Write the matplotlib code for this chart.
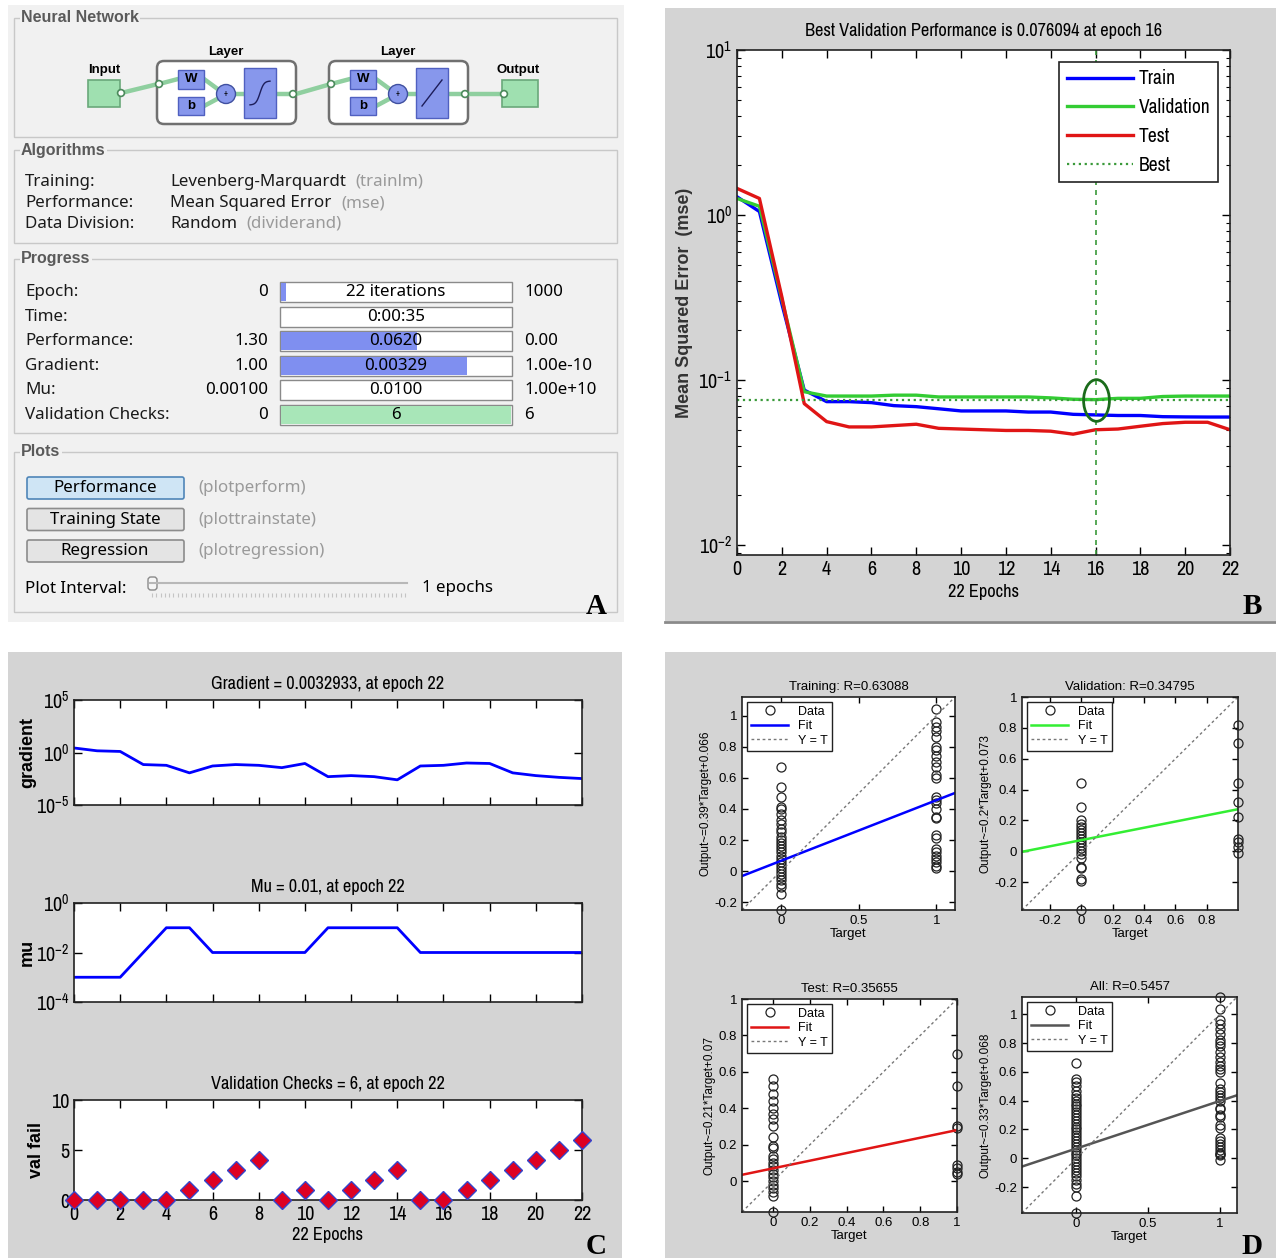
import numpy as np
import matplotlib as mpl
mpl.use('Agg')
import matplotlib.pyplot as plt
from matplotlib import font_manager
from matplotlib.patches import Rectangle, FancyBboxPatch, Circle
from matplotlib.path import Path
from matplotlib.transforms import Affine2D

W, H = 1276, 1260

# MATLAB figures in the picture use a condensed sans; pick one if the system has it
fonts = font_manager.fontManager.ttflist
narrow = sorted({f.name for f in fonts if 'Narrow' in f.name or 'Condensed' in f.name})
cond_dejavu = [f for f in fonts if f.name == 'DejaVu Sans' and 'condensed' in str(f.stretch)]
k = 1.0
if narrow:
    MATLAB_FONT = [narrow[0], 'Liberation Sans', 'DejaVu Sans']
elif cond_dejavu:
    MATLAB_FONT = ['DejaVu Sans', 'Liberation Sans']
    plt.rcParams['font.stretch'] = 'condensed'
    k = 0.92
else:
    MATLAB_FONT = ['Liberation Sans', 'DejaVu Sans']
    k = 0.84
plt.rcParams['font.family'] = MATLAB_FONT
plt.rcParams['mathtext.fontset'] = 'custom'
plt.rcParams['mathtext.rm'] = MATLAB_FONT[0]
ARIAL = ['Liberation Sans', 'DejaVu Sans']
GUI_FONT = ['Noto Sans', 'DejaVu Sans']

# ---------------- data ----------------
epochs = np.arange(23)

# panel B: performance (mse)
perf_train = [1.29, 1.05, 0.29, 0.087, 0.074, 0.074, 0.073, 0.070, 0.069, 0.067, 0.065,
              0.065, 0.065, 0.064, 0.064, 0.062, 0.0615, 0.061, 0.061, 0.060, 0.0598, 0.0597, 0.0597]
perf_val = [1.26, 1.13, 0.31, 0.085, 0.080, 0.080, 0.080, 0.081, 0.081, 0.079, 0.079,
            0.079, 0.079, 0.079, 0.078, 0.0765, 0.0761, 0.0775, 0.0775, 0.0795, 0.080, 0.080, 0.080]
perf_test = [1.45, 1.26, 0.32, 0.072, 0.056, 0.052, 0.052, 0.053, 0.054, 0.051, 0.0505,
             0.050, 0.0495, 0.0495, 0.049, 0.047, 0.050, 0.0505, 0.0525, 0.0545, 0.0555, 0.0555, 0.050]
best_epoch = 16
best_perf = 0.076094

# panel C: training state
gradient = [2.7, 1.45, 1.26, 0.071, 0.060, 0.0115, 0.052, 0.071, 0.060, 0.036, 0.090, 0.005,
            0.0063, 0.005, 0.0025, 0.052, 0.060, 0.10, 0.090, 0.0115, 0.0063, 0.0043, 0.0032933]
mu = [0.001, 0.001, 0.001, 0.01, 0.1, 0.1, 0.01, 0.01, 0.01, 0.01, 0.01, 0.1,
      0.1, 0.1, 0.1, 0.01, 0.01, 0.01, 0.01, 0.01, 0.01, 0.01, 0.01]
val_fail = [0, 0, 0, 0, 0, 1, 2, 3, 4, 0, 1, 0, 1, 2, 3, 0, 0, 1, 2, 3, 4, 5, 6]

# panel D: regression outputs for target 0 and target 1
train_t0 = [0.67, 0.54, 0.48, 0.41, 0.40, 0.37, 0.33, 0.30, 0.27, 0.25, 0.22, 0.20, 0.18, 0.16,
            0.14, 0.12, 0.10, 0.08, 0.06, 0.04, 0.02, 0.0, -0.02, -0.04, -0.06, -0.08, -0.10,
            -0.15, -0.25]
train_t1 = [1.04, 0.96, 0.93, 0.90, 0.86, 0.80, 0.78, 0.74, 0.70, 0.67, 0.62, 0.60, 0.48, 0.46,
            0.44, 0.40, 0.35, 0.34, 0.23, 0.21, 0.14, 0.12, 0.10, 0.08, 0.06, 0.03, 0.02]
val_t0 = [0.44, 0.29, 0.20, 0.18, 0.16, 0.14, 0.12, 0.10, 0.08, 0.06, 0.04, 0.02, 0.0, -0.02,
          -0.04, -0.10, -0.11, -0.18, -0.19, -0.38]
val_t1 = [0.82, 0.70, 0.44, 0.32, 0.22, 0.08, 0.06, 0.03, -0.01]
test_t0 = [0.56, 0.52, 0.48, 0.44, 0.40, 0.37, 0.34, 0.30, 0.24, 0.19, 0.18, 0.14, 0.12, 0.10,
           0.08, 0.06, 0.04, 0.02, 0.0, -0.02, -0.04, -0.06, -0.08, -0.17]
test_t1 = [0.70, 0.52, 0.30, 0.29, 0.09, 0.07, 0.05, 0.04]
all_t0 = [0.66, 0.55, 0.53, 0.50, 0.47, 0.44, 0.42, 0.40, 0.38, 0.36, 0.34, 0.32, 0.30, 0.28,
          0.26, 0.24, 0.22, 0.20, 0.18, 0.16, 0.14, 0.12, 0.10, 0.08, 0.06, 0.04, 0.02, 0.0,
          -0.02, -0.04, -0.06, -0.08, -0.10, -0.12, -0.15, -0.18, -0.20, -0.26, -0.38]
all_t1 = [1.12, 1.04, 0.96, 0.93, 0.90, 0.86, 0.82, 0.80, 0.78, 0.74, 0.70, 0.67, 0.64, 0.62,
          0.60, 0.52, 0.48, 0.46, 0.44, 0.42, 0.40, 0.35, 0.34, 0.30, 0.29, 0.23, 0.21, 0.14,
          0.12, 0.10, 0.08, 0.06, 0.04, 0.03, 0.02, -0.01]

reg_titles = ['Training: R=0.63088', 'Validation: R=0.34795', 'Test: R=0.35655', 'All: R=0.5457']
reg_ylabels = ['Output~=0.39*Target+0.066', 'Output~=0.2*Target+0.073',
               'Output~=0.21*Target+0.07', 'Output~=0.33*Target+0.068']
reg_slope = [0.39, 0.2, 0.21, 0.33]
reg_icept = [0.066, 0.073, 0.07, 0.068]

# panel A: training tool texts
algo_labels = ['Training:', 'Performance:', 'Data Division:']
algo_values = ['Levenberg-Marquardt', 'Mean Squared Error', 'Random']
algo_funcs = ['(trainlm)', '(mse)', '(dividerand)']
prog_labels = ['Epoch:', 'Time:', 'Performance:', 'Gradient:', 'Mu:', 'Validation Checks:']
prog_start = ['0', '', '1.30', '1.00', '0.00100', '0']
prog_value = ['22 iterations', '0:00:35', '0.0620', '0.00329', '0.0100', '6']
prog_end = ['1000', '', '0.00', '1.00e-10', '1.00e+10', '6']
prog_fill = [0.022, 0.0, 0.59, 0.81, 0.0, 1.0]
plot_buttons = ['Performance', 'Training State', 'Regression']
plot_funcs = ['(plotperform)', '(plottrainstate)', '(plotregression)']

# ---------------- figure ----------------
fig = plt.figure(figsize=(W / 100, H / 100), dpi=100)
canvas = fig.add_axes([0, 0, 1, 1])
canvas.set_xlim(0, W)
canvas.set_ylim(H, 0)
canvas.axis('off')


def px_axes(x0, y0, x1, y1):
    return fig.add_axes([x0 / W, 1 - y1 / H, (x1 - x0) / W, (y1 - y0) / H])


def rect(x0, y0, x1, y1, **kw):
    canvas.add_patch(Rectangle((x0, y0), x1 - x0, y1 - y0, **kw))


GRAY = '#d4d4d4'
A_BG = '#f1f1f1'
rect(8, 5, 624, 622, fc=A_BG, ec='none')
rect(665, 8, 1276, 621, fc=GRAY, ec='none')
canvas.plot([665, 1276], [622, 622], color='#8a8a8a', lw=2)
rect(8, 652, 622, 1258, fc=GRAY, ec='none')
rect(665, 652, 1276, 1258, fc=GRAY, ec='none')

# ---- panel A (nntraintool window)
GUI_FS = 12.2


def group(y0, y1, title):
    rect(14, y0, 617, y1, fill=False, ec='#c8c8c8', lw=1)
    canvas.text(21, y0, title, fontsize=11.5, fontweight='bold', color='#5a5a5a',
                family=ARIAL, va='center', ha='left',
                bbox=dict(fc=A_BG, ec='none', pad=1))


group(18, 137, 'Neural Network')
group(150, 243, 'Algorithms')
group(259, 433, 'Progress')
group(452, 612, 'Plots')

# network diagram
GREEN = '#9fe0b0'
BLUE_BOX = '#8797ec'
CONN = '#8fcf9f'


def node(x, y):
    canvas.add_patch(Circle((x, y), 3.4, fc='white', ec='#4c8a5c', lw=1.2, zorder=5))


def link(xs, ys):
    canvas.plot(xs, ys, color=CONN, lw=3.2, solid_capstyle='round', zorder=3)


rect(88, 80, 120, 107, fc=GREEN, ec='#6aa87a', lw=1.2)
canvas.text(104, 70, 'Input', fontsize=9.5, fontweight='bold', ha='center', va='center', family=ARIAL)
rect(502, 80, 538, 107, fc=GREEN, ec='#6aa87a', lw=1.2)
canvas.text(518, 70, 'Output', fontsize=9.5, fontweight='bold', ha='center', va='center', family=ARIAL)
link([121, 158], [93, 84])
node(121, 93)

for j, lx in enumerate([157, 329]):
    canvas.add_patch(FancyBboxPatch((lx, 61), 139, 63, boxstyle='round,pad=0,rounding_size=7',
                                    fc='white', ec='#707070', lw=1.8, zorder=2))
    canvas.text(lx + 69, 52, 'Layer', fontsize=9.5, fontweight='bold', ha='center', va='center',
                family=ARIAL)
    link([lx + 2, lx + 21], [84, 79])
    node(lx + 2, 84)
    link([lx + 47, lx + 62], [79, 90])
    link([lx + 47, lx + 62], [106, 98])
    link([lx + 78, lx + 87], [94, 94])
    rect(lx + 21, 70, lx + 47, 89, fc=BLUE_BOX, ec='#5060c0', lw=1, zorder=4)
    canvas.text(lx + 34, 79.5, 'W', fontsize=9.5, fontweight='bold', ha='center', va='center',
                zorder=6, family=ARIAL)
    rect(lx + 21, 97, lx + 47, 115, fc=BLUE_BOX, ec='#5060c0', lw=1, zorder=4)
    canvas.text(lx + 34, 106, 'b', fontsize=9.5, fontweight='bold', ha='center', va='center',
                zorder=6, family=ARIAL)
    canvas.add_patch(Circle((lx + 69, 94), 9.5, fc=BLUE_BOX, ec='#4050a0', lw=1, zorder=4))
    canvas.text(lx + 69, 94, '+', fontsize=6, ha='center', va='center', zorder=6)
    rect(lx + 87, 68, lx + 119, 118, fc=BLUE_BOX, ec='#5060c0', lw=1, zorder=4)
    if j == 0:
        sx = np.linspace(lx + 93, lx + 113, 30)
        canvas.plot(sx, 93 - 12 * np.tanh((sx - lx - 103) / 4.0), color='#1d1d5a', lw=1, zorder=6)
    else:
        canvas.plot([lx + 93, lx + 113], [106, 80], color='#1d1d5a', lw=1, zorder=6)
    node(lx + 136, 94)
    link([lx + 119, lx + 136], [94, 94])

link([296, 331], [94, 84])
link([465, 504], [94, 94])
node(504, 94)

# algorithms
for i, (lab, val, fn) in enumerate(zip(algo_labels, algo_values, algo_funcs)):
    y = 182 + 21 * i
    canvas.text(25, y, lab, fontsize=GUI_FS, va='center', family=GUI_FONT, color='#1a1a1a')
    t = canvas.text(170, y, val, fontsize=GUI_FS, va='center', family=GUI_FONT, color='#1a1a1a')
    canvas.annotate(fn, xy=(1, 0.5), xycoords=t, xytext=(7, 0), textcoords='offset points',
                    fontsize=GUI_FS, va='center', family=GUI_FONT, color='#9a9a9a')

# progress
for i in range(len(prog_labels)):
    y = 292 + 24.6 * i
    canvas.text(25, y, prog_labels[i], fontsize=GUI_FS, va='center', family=GUI_FONT, color='#1a1a1a')
    canvas.text(268, y, prog_start[i], fontsize=GUI_FS, va='center', ha='right', family=GUI_FONT)
    rect(280, y - 10, 512, y + 10, fc='white', ec='#8a8a8a', lw=1)
    if prog_fill[i] > 0:
        col = '#a8e6b8' if prog_labels[i].startswith('Valid') else '#7f8ff0'
        rect(281, y - 9, 281 + 230 * prog_fill[i], y + 9, fc=col, ec='none')
    canvas.text(396, y, prog_value[i], fontsize=GUI_FS, va='center', ha='center', family=GUI_FONT)
    canvas.text(524, y, prog_end[i], fontsize=GUI_FS, va='center', family=GUI_FONT)

# plots group
for i, (b, fn) in enumerate(zip(plot_buttons, plot_funcs)):
    y = 488 + 31.5 * i
    first = i == 0
    canvas.add_patch(FancyBboxPatch((27, y - 11), 157, 22, boxstyle='round,pad=0,rounding_size=2',
                                    fc='#cfe5f5' if first else '#e4e4e4',
                                    ec='#4f86b8' if first else '#8c8c8c', lw=1.2))
    canvas.text(105, y, b, fontsize=GUI_FS, va='center', ha='center', family=GUI_FONT)
    canvas.text(198, y, fn, fontsize=GUI_FS, va='center', family=GUI_FONT, color='#9a9a9a')
canvas.text(25, 589, 'Plot Interval:', fontsize=GUI_FS, va='center', family=GUI_FONT)
canvas.plot([150, 407], [583, 583], color='#b8b8b8', lw=1.5)
canvas.vlines(np.linspace(152, 405, 60), 593, 597, color='#c4c4c4', lw=0.8)
canvas.add_patch(FancyBboxPatch((148, 577), 9, 13, boxstyle='round,pad=0,rounding_size=3',
                                fc='#f6f6f6', ec='#8a8a8a', lw=1))
canvas.text(422, 588, '1 epochs', fontsize=GUI_FS, va='center', family=GUI_FONT)

# panel letters
for lab, x, y in [('A', 596, 606), ('B', 1252, 607), ('C', 596, 1246), ('D', 1252, 1247)]:
    canvas.text(x, y, lab, fontsize=21, fontweight='bold', family=['Liberation Serif', 'DejaVu Serif'],
                ha='center', va='center')


def matlab_ticks(ax, size):
    ax.tick_params(which='both', direction='in', top=True, right=True, labelsize=size)
    ax.tick_params(which='major', length=6, width=1)
    ax.tick_params(which='minor', length=3, width=0.8)
    for s in ax.spines.values():
        s.set_linewidth(1.2)
        s.set_color('#222222')


TS = 13.2 * k   # title / label size in B and C
TK = 14.5 * k   # tick label size in B and C

# ---- panel B
axb = px_axes(737, 50, 1230, 555)
axb.semilogy(epochs, perf_train, color='#0000ff', lw=2.4, label='Train')
axb.semilogy(epochs, perf_val, color='#33cc33', lw=2.4, label='Validation')
axb.semilogy(epochs, perf_test, color='#e01515', lw=2.4, label='Test')
axb.axhline(best_perf, color='#3a9a3a', lw=1.6, ls=':', label='Best')
axb.axvline(best_epoch, color='#3a9a3a', lw=1.2, ls=(0, (3, 3)))
ell = Path.unit_circle().transformed(Affine2D().scale(0.62, 1.0))
axb.plot([best_epoch], [best_perf], marker=ell, ms=30, mfc='none', mec='#1b6b1b', mew=2)
axb.set_xlim(0, 22)
axb.set_ylim(10 ** -2.06, 10)
axb.set_xticks(range(0, 23, 2))
axb.set_yticks([1e-2, 1e-1, 1e0, 1e1])
matlab_ticks(axb, TK)
axb.set_title('Best Validation Performance is 0.076094 at epoch 16', fontsize=TS, pad=10)
axb.set_xlabel('22 Epochs', fontsize=TS)
axb.set_ylabel('Mean Squared Error  (mse)', fontsize=13, fontweight='bold', color='#333333',
               family=ARIAL, labelpad=4)
leg = axb.legend(loc='upper right', fontsize=14 * k, handlelength=3.4, fancybox=False, framealpha=1,
                 borderaxespad=0.6, labelspacing=0.5, handletextpad=0.3)
leg.get_frame().set_edgecolor('#222222')
leg.get_frame().set_linewidth(1.2)

# ---- panel C
axg = px_axes(74, 700, 582, 805)
axg.semilogy(epochs, gradient, color='#0000ff', lw=2)
axg.set_ylim(1e-5, 1e5)
axg.set_yticks([1e-5, 1e0, 1e5])
axg.minorticks_off()
axg.set_title('Gradient = 0.0032933, at epoch 22', fontsize=TS, pad=8)
axg.set_ylabel('gradient', fontsize=13, fontweight='bold', family=ARIAL, labelpad=0)

axm = px_axes(74, 903, 582, 1002)
axm.semilogy(epochs, mu, color='#0000ff', lw=2)
axm.set_ylim(1e-4, 1e0)
axm.set_yticks([1e-4, 1e-2, 1e0])
axm.minorticks_off()
axm.set_title('Mu = 0.01, at epoch 22', fontsize=TS, pad=8)
axm.set_ylabel('mu', fontsize=13, fontweight='bold', family=ARIAL, labelpad=0)

axv = px_axes(74, 1100, 582, 1200)
axv.plot(epochs, val_fail, ls='none', marker='D', ms=9, mfc='#dd0022', mec='#3344cc', mew=1,
         clip_on=False, zorder=5)
axv.set_ylim(0, 10)
axv.set_yticks([0, 5, 10])
axv.set_title('Validation Checks = 6, at epoch 22', fontsize=TS, pad=8)
axv.set_ylabel('val fail', fontsize=13, fontweight='bold', family=ARIAL, labelpad=4)
axv.set_xlabel('22 Epochs', fontsize=TS, labelpad=2)

for ax in (axg, axm, axv):
    ax.set_xlim(0, 22)
    ax.set_xticks(range(0, 23, 2))
    matlab_ticks(ax, TK)
for ax in (axg, axm):
    ax.set_xticklabels([])

# ---- panel D
reg_boxes = [(742, 697, 955, 910), (1022, 697, 1238, 910), (742, 999, 957, 1212), (1022, 997, 1237, 1213)]
reg_lims = [(-0.25, 1.12), (-0.38, 1.0), (-0.17, 1.0), (-0.38, 1.12)]
reg_colors = ['#0000ff', '#33ee33', '#e01515', '#555555']
reg_data = [(train_t0, train_t1), (val_t0, val_t1), (test_t0, test_t1), (all_t0, all_t1)]
reg_xticks = [[0, 0.5, 1], [-0.2, 0, 0.2, 0.4, 0.6, 0.8], [0, 0.2, 0.4, 0.6, 0.8, 1], [0, 0.5, 1]]
reg_yticks = [[-0.2, 0, 0.2, 0.4, 0.6, 0.8, 1], [-0.2, 0, 0.2, 0.4, 0.6, 0.8, 1],
              [0, 0.2, 0.4, 0.6, 0.8, 1], [-0.2, 0, 0.2, 0.4, 0.6, 0.8, 1]]
for i in range(4):
    ax = px_axes(*reg_boxes[i])
    lo, hi = reg_lims[i]
    t0, t1 = reg_data[i]
    ax.plot(np.zeros(len(t0)), t0, ls='none', marker='o', ms=6.5, mfc='none', mec='#222222',
            mew=0.9, label='Data', clip_on=False)
    ax.plot(np.ones(len(t1)), t1, ls='none', marker='o', ms=6.5, mfc='none', mec='#222222',
            mew=0.9, clip_on=False)
    ax.plot([lo, hi], [reg_slope[i] * lo + reg_icept[i], reg_slope[i] * hi + reg_icept[i]],
            color=reg_colors[i], lw=1.8, label='Fit')
    ax.plot([lo, hi], [lo, hi], color='#777777', lw=1, ls=(0, (2, 2)), label='Y = T')
    ax.set_xlim(lo, hi)
    ax.set_ylim(lo, hi)
    ax.set_xticks(reg_xticks[i])
    ax.set_yticks(reg_yticks[i])
    ax.set_xticklabels([f'{v:g}' for v in reg_xticks[i]], family=ARIAL)
    ax.set_yticklabels([f'{v:g}' for v in reg_yticks[i]], family=ARIAL)
    matlab_ticks(ax, 9.5)
    ax.tick_params(which='major', length=4)
    ax.set_title(reg_titles[i], fontsize=9.5, pad=5, family=ARIAL)
    ax.set_xlabel('Target', fontsize=9.5, labelpad=1, family=ARIAL)
    ax.set_ylabel(reg_ylabels[i], fontsize=8.5, labelpad=2, family=ARIAL)
    lg = ax.legend(loc='upper left', fontsize=9, fancybox=False, framealpha=1, handlelength=3,
                   borderaxespad=0.4, labelspacing=0.2, borderpad=0.3,
                   prop={'family': ARIAL, 'size': 9})
    lg.get_frame().set_edgecolor('#222222')

fig.savefig('out.png', dpi=100)
